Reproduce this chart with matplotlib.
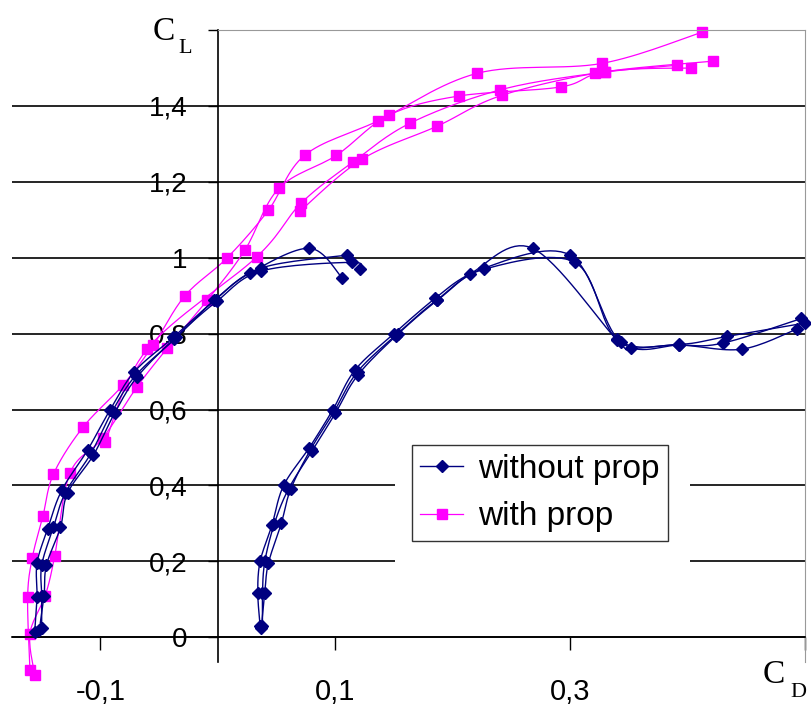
import matplotlib.pyplot as plt
import numpy as np
from matplotlib.lines import Line2D
from matplotlib.patches import Rectangle

plt.rcParams['font.family'] = ['Liberation Sans', 'DejaVu Sans']

# --- data (CD, CL) ---
# without prop, shifted group (left)
wo_left1_cd = [-0.156, -0.154, -0.154, -0.145, -0.133, -0.111, -0.092, -0.071, -0.038, -0.003, 0.027, 0.078, 0.106]
wo_left1_cl = [0.013, 0.105, 0.195, 0.285, 0.387, 0.493, 0.598, 0.700, 0.790, 0.888, 0.959, 1.025, 0.946]
wo_left2_cd = [-0.150, -0.150, -0.150, -0.140, -0.130, -0.108, -0.090, -0.070, -0.037, -0.002, 0.037, 0.110]
wo_left2_cl = [0.024, 0.108, 0.190, 0.290, 0.380, 0.485, 0.595, 0.690, 0.785, 0.890, 0.973, 1.007]
wo_left3_cd = [-0.152, -0.148, -0.146, -0.134, -0.128, -0.106, -0.088, -0.069, -0.036, -0.001, 0.037, 0.114, 0.121]
wo_left3_cl = [0.020, 0.110, 0.190, 0.290, 0.380, 0.480, 0.590, 0.685, 0.790, 0.885, 0.965, 0.988, 0.970]

# without prop (right group)
wo_right1_cd = [0.036, 0.034, 0.036, 0.046, 0.056, 0.078, 0.098, 0.117, 0.150, 0.185, 0.215, 0.268, 0.340, 0.352, 0.393, 0.446, 0.493]
wo_right1_cl = [0.030, 0.118, 0.200, 0.295, 0.400, 0.500, 0.600, 0.705, 0.800, 0.893, 0.958, 1.025, 0.783, 0.762, 0.770, 0.759, 0.812]
wo_right2_cd = [0.038, 0.038, 0.040, 0.048, 0.060, 0.080, 0.100, 0.119, 0.152, 0.187, 0.227, 0.300, 0.343, 0.393, 0.430, 0.497]
wo_right2_cl = [0.030, 0.118, 0.200, 0.298, 0.390, 0.490, 0.590, 0.690, 0.795, 0.888, 0.973, 1.007, 0.778, 0.770, 0.775, 0.840]
wo_right3_cd = [0.037, 0.040, 0.043, 0.054, 0.062, 0.079, 0.099, 0.119, 0.153, 0.187, 0.227, 0.304, 0.340, 0.393, 0.434, 0.500]
wo_right3_cl = [0.025, 0.118, 0.195, 0.300, 0.390, 0.495, 0.595, 0.700, 0.800, 0.890, 0.970, 0.988, 0.785, 0.772, 0.793, 0.828]

# with prop
w1_cd = [-0.160, -0.162, -0.158, -0.149, -0.140, -0.115, -0.081, -0.055, -0.028, 0.008, 0.043, 0.074, 0.136, 0.221, 0.327, 0.412]
w1_cl = [-0.087, 0.105, 0.210, 0.319, 0.430, 0.553, 0.664, 0.770, 0.900, 1.000, 1.125, 1.270, 1.360, 1.486, 1.512, 1.594]
w2_cd = [-0.156, -0.160, -0.147, -0.139, -0.126, -0.098, -0.069, -0.043, -0.009, 0.023, 0.052, 0.101, 0.146, 0.205, 0.292, 0.330, 0.422]
w2_cl = [-0.100, 0.010, 0.110, 0.213, 0.432, 0.525, 0.659, 0.762, 0.888, 1.020, 1.183, 1.270, 1.376, 1.426, 1.450, 1.490, 1.518]
w3_cd = [-0.096, -0.060, 0.033, 0.071, 0.115, 0.164, 0.240, 0.321, 0.391]
w3_cl = [0.514, 0.760, 1.002, 1.144, 1.252, 1.355, 1.442, 1.486, 1.507]
w4_cd = [0.070, 0.123, 0.187, 0.242, 0.330, 0.403]
w4_cl = [1.123, 1.260, 1.347, 1.428, 1.490, 1.500]

yticks = [0, 0.2, 0.4, 0.6, 0.8, 1.0, 1.2, 1.4]
ylabels = ['0', '0,2', '0,4', '0,6', '0,8', '1', '1,2', '1,4']
xticks = [-0.1, 0.1, 0.3, 0.5]
xlabels = ['-0,1', '0,1', '0,3', '']

NAVY = '#000080'
MAG = '#FF00FF'


def smooth(x, y, n=16):
    # Catmull-Rom path through the points (like Excel's smoothed line)
    p = np.column_stack([x, y]).astype(float)
    p = np.vstack([p[0], p, p[-1]])
    t = np.linspace(0, 1, n, endpoint=False)[:, None]
    out = []
    for i in range(1, len(p) - 2):
        p0, p1, p2, p3 = p[i - 1], p[i], p[i + 1], p[i + 2]
        out.append(0.5 * (2 * p1 + (-p0 + p2) * t + (2 * p0 - 5 * p1 + 4 * p2 - p3) * t ** 2
                          + (-p0 + 3 * p1 - 3 * p2 + p3) * t ** 3))
    out.append(p[-2][None, :])
    out = np.vstack(out)
    return out[:, 0], out[:, 1]


fig = plt.figure(figsize=(8.11, 7.07), dpi=100)
ax = fig.add_axes([12 / 811, 45 / 707, 793 / 811, 632 / 707])
ax.set_xlim(-0.1753, 0.4996)
ax.set_ylim(-0.065, 1.6)
ax.set_axisbelow(True)

# with prop (drawn first)
for cd, cl in [(w1_cd, w1_cl), (w2_cd, w2_cl), (w3_cd, w3_cl), (w4_cd, w4_cl)]:
    sx, sy = smooth(cd, cl)
    ax.plot(sx, sy, color=MAG, lw=0.9, clip_on=False, zorder=2)
    ax.plot(cd, cl, 's', color=MAG, ms=7, clip_on=False, zorder=2)

# without prop
for cd, cl in [(wo_left1_cd, wo_left1_cl), (wo_left2_cd, wo_left2_cl), (wo_left3_cd, wo_left3_cl),
               (wo_right1_cd, wo_right1_cl), (wo_right2_cd, wo_right2_cl), (wo_right3_cd, wo_right3_cl)]:
    sx, sy = smooth(cd, cl)
    ax.plot(sx, sy, color=NAVY, lw=1.0, clip_on=False, zorder=3)
    ax.plot(cd, cl, 'D', color=NAVY, ms=6.5, clip_on=False, zorder=3)

# axes styling
for s in ['left', 'bottom']:
    ax.spines[s].set_position(('data', 0))
    ax.spines[s].set_color('black')
    ax.spines[s].set_linewidth(1.2)
ax.spines['top'].set_bounds(0, 0.5)
ax.spines['top'].set_color('#999999')
ax.spines['right'].set_color('#999999')

ax.set_yticks(yticks)
ax.set_yticklabels(ylabels)
ax.set_yticks([1.6], minor=True)
ax.set_xticks(xticks)
ax.set_xticklabels(xlabels)
ax.tick_params(axis='y', which='both', direction='out', length=7, width=1, pad=15, labelsize=20)
ax.tick_params(axis='x', direction='out', length=9, width=1, pad=20, labelsize=21)
ax.yaxis.grid(True, which='major', color='black', lw=1.2)

# white area behind the legend
ax.add_patch(Rectangle((0.151, 0.15), 0.251, 0.40, facecolor='white', edgecolor='none', zorder=1))

handles = [Line2D([], [], color=NAVY, lw=1.0, marker='D', ms=6.5),
           Line2D([], [], color=MAG, lw=0.9, marker='s', ms=7)]
leg = ax.legend(handles, ['without prop', 'with prop'], loc='upper left',
                bbox_to_anchor=(0.165, 0.506), bbox_transform=ax.transData,
                fontsize=24, frameon=True, fancybox=False, borderaxespad=0,
                borderpad=0.25, handlelength=1.3, handletextpad=0.45, labelspacing=0.5)
leg.get_frame().set_edgecolor('black')
leg.get_frame().set_linewidth(1.0)
leg.set_zorder(5)

# axis titles
serif = ['Liberation Serif', 'DejaVu Serif']
fig.text(153 / 811, 1 - 40 / 707, 'C', family=serif, fontsize=24, va='baseline')
fig.text(178 / 811, 1 - 53 / 707, 'L', family=serif, fontsize=16, va='baseline')
fig.text(763 / 811, 1 - 683 / 707, 'C', family=serif, fontsize=24, va='baseline')
fig.text(790 / 811, 1 - 697 / 707, 'D', family=serif, fontsize=16, va='baseline')

fig.savefig('out.png', dpi=100)
